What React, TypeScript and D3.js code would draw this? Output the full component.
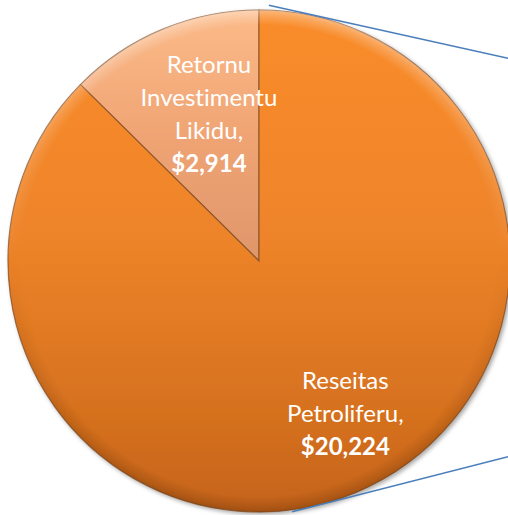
import React, { useEffect, useRef } from 'react'
import * as d3 from 'd3'

// pie data
const categories = ['Retornu Investimentu Likidu', 'Reseitas Petroliferu']
const labelLines = [['Retornu', 'Investimentu', 'Likidu,'], ['Reseitas', 'Petroliferu,']]
const values = [2914, 20224]

const W = 508
const H = 515

const App = () => {
  const ref = useRef<SVGSVGElement>(null)

  useEffect(() => {
    const svg = d3.select(ref.current)
    svg.selectAll('*').remove()

    const cx = 259, cy = 261, r = 251
    const total = d3.sum(values)
    const start = -2 * Math.PI * values[0] / total

    const defs = svg.append('defs')
    // slice gradients, in the pie's own (translated) coordinates
    const grads: [string, [string, string][]][] = [
      ['g0', [['0%', '#fcbb89'], ['50%', '#f0a474'], ['100%', '#df966a']]],
      ['g1', [['0%', '#fa8c2c'], ['45%', '#ee8429'], ['80%', '#d6711f'], ['100%', '#c4631c']]],
    ]
    grads.forEach(([id, stops]) => {
      const g = defs.append('linearGradient').attr('id', id)
        .attr('gradientUnits', 'userSpaceOnUse')
        .attr('x1', 0).attr('y1', -r).attr('x2', 0).attr('y2', id === 'g0' ? 0 : r)
      stops.forEach(s => g.append('stop').attr('offset', s[0]).attr('stop-color', s[1]))
    })
    // bevel: light rim at top, dark rim at bottom
    const rim = (id: string, col: string, op: number) => {
      const b = defs.append('radialGradient').attr('id', id)
        .attr('gradientUnits', 'userSpaceOnUse')
        .attr('cx', cx).attr('cy', cy).attr('r', r)
      b.append('stop').attr('offset', '94%').attr('stop-color', col).attr('stop-opacity', 0)
      b.append('stop').attr('offset', '98%').attr('stop-color', col).attr('stop-opacity', op * 0.6)
      b.append('stop').attr('offset', '100%').attr('stop-color', col).attr('stop-opacity', op)
    }
    rim('rimL', '#fff', 0.4)
    rim('rimD', '#5a2a00', 0.35)
    const mk = (id: string, a: string, b: string) => {
      const lg = defs.append('linearGradient').attr('id', id + 'g')
        .attr('x1', 0).attr('y1', 0).attr('x2', 0).attr('y2', 1)
      lg.append('stop').attr('offset', '0%').attr('stop-color', a)
      lg.append('stop').attr('offset', '50%').attr('stop-color', '#000')
      lg.append('stop').attr('offset', '100%').attr('stop-color', b)
      defs.append('mask').attr('id', id).append('rect')
        .attr('x', cx - r).attr('y', cy - r).attr('width', 2 * r).attr('height', 2 * r)
        .attr('fill', `url(#${id}g)`)
    }
    mk('mTop', '#fff', '#000')
    mk('mBot', '#000', '#fff')

    const shadow = defs.append('filter').attr('id', 'sh')
      .attr('x', '-10%').attr('y', '-10%').attr('width', '120%').attr('height', '120%')
    shadow.append('feDropShadow').attr('dx', 2).attr('dy', 2).attr('stdDeviation', 2)
      .attr('flood-color', '#000').attr('flood-opacity', 0.35)

    const pie = d3.pie<number>().sort(null).startAngle(start).endAngle(start + 2 * Math.PI)
    const arcs = pie(values)
    const arc = d3.arc<d3.PieArcDatum<number>>().innerRadius(0).outerRadius(r)

    const sg = svg.append('g').attr('filter', 'url(#sh)')
    sg.selectAll('path').data(arcs).enter().append('path')
      .attr('d', arc)
      .attr('transform', `translate(${cx},${cy})`)
      .attr('fill', (d, i) => `url(#g${i})`)
      .attr('stroke', '#7a4a25').attr('stroke-width', 1.2).attr('stroke-opacity', 0.7)

    svg.append('circle').attr('cx', cx).attr('cy', cy).attr('r', r)
      .attr('fill', 'url(#rimL)').attr('mask', 'url(#mTop)')
    svg.append('circle').attr('cx', cx).attr('cy', cy).attr('r', r)
      .attr('fill', 'url(#rimD)').attr('mask', 'url(#mBot)')

    // connector lines to secondary chart
    const connectors = [
      { a: 2.2, d: 256, slope: 0.222 },
      { a: 172.5, d: 253, slope: -0.255 },
    ]
    connectors.forEach(c => {
      const rad = c.a * Math.PI / 180
      const x0 = cx + c.d * Math.sin(rad), y0 = cy - c.d * Math.cos(rad)
      svg.append('line').attr('x1', x0).attr('y1', y0)
        .attr('x2', W).attr('y2', y0 + (W - x0) * c.slope)
        .attr('stroke', '#4a7ebb').attr('stroke-width', 1.5)
    })

    // labels
    const labelR = [148, 180]
    const nudge = [[7, -10], [17, -13]]
    const fmt = d3.format('$,')
    arcs.forEach((d, i) => {
      const c = d3.arc<any>().innerRadius(labelR[i]).outerRadius(labelR[i]).centroid(d)
      const lines = [...labelLines[i], fmt(values[i])]
      const lh = 33
      const x = cx + c[0] + nudge[i][0]
      const y0 = cy + c[1] + nudge[i][1] - (lines.length - 1) * lh / 2
      const t = svg.append('text').attr('text-anchor', 'middle')
        .attr('font-family', 'Lato, "Open Sans", sans-serif').attr('font-size', 24)
        .style('font-variant-ligatures', 'none')
        .attr('fill', '#fff')
      lines.forEach((l, j) => {
        t.append('tspan').attr('x', x).attr('y', y0 + j * lh).attr('dy', '0.35em')
          .attr('font-weight', j === lines.length - 1 ? 'bold' : 'normal')
          .text(l)
      })
    })
  }, [])

  return (
    <svg ref={ref} width={W} height={H} style={{ position: 'absolute', left: 0, top: 0 }} />
  )
}

export default App
